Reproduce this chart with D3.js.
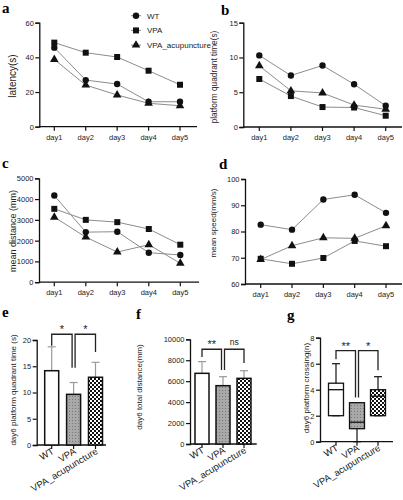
<!DOCTYPE html>
<html><head><meta charset="utf-8">
<script src="https://cdn.jsdelivr.net/npm/d3@7"></script>
<style>
body{margin:0;background:#fff;}
text{font-family:"Liberation Sans",Arial,sans-serif;fill:#222;}
.plab{font-family:"Liberation Serif","DejaVu Serif",serif;font-weight:bold;font-size:15px;fill:#000;}
</style></head>
<body><svg id="c" width="403" height="500"></svg>
<script>
// ---------- data ----------
const days = ["day1","day2","day3","day4","day5"];
const groups = ["WT","VPA","VPA_acupuncture"];
const latencyWT  = [45.6, 26.9, 24.6, 14.4, 14.4];
const latencyVPA = [48.5, 42.7, 40.2, 32.3, 24.2];
const latencyAcu = [38.8, 24.0, 18.3, 13.5, 12.1];
const quadWT  = [10.3, 7.4, 8.85, 6.15, 3.05];
const quadVPA = [6.9, 4.45, 2.87, 2.8, 1.62];
const quadAcu = [8.8, 5.2, 4.9, 3.15, 2.55];
const distWT  = [4170, 2410, 2430, 1420, 1310];
const distVPA = [3530, 3000, 2890, 2560, 1805];
const distAcu = [3130, 2170, 1450, 1805, 910];
const speedWT  = [82.6, 80.7, 92.2, 94.0, 87.1];
const speedVPA = [69.6, 67.7, 69.9, 76.4, 74.4];
const speedAcu = [69.3, 74.6, 77.6, 77.4, 82.2];
const day6QuadMean = [14.15, 9.65, 12.9];
const day6QuadSD   = [4.55, 2.25, 2.85];
const day6DistMean = [6750, 5570, 6270];
const day6DistSD   = [1120, 860, 730];
const crossMin = [2, 0, 2];
const crossQ1  = [2, 1, 2];
const crossMed = [4, 1.5, 3.5];
const crossQ3  = [4.5, 3, 4];
const crossMax = [6, 3, 5];
const sigQuad = [{a:0,b:1,top:21.1,la:18.9,lb:14.7,t:"*"},{a:1,b:2,top:21.1,la:14.7,lb:17.7,t:"*"}];
const sigDist = [{a:0,b:1,top:9050,la:8310,lb:7070,t:"**"},{a:1,b:2,top:9050,la:7070,lb:7740,t:"ns"}];
const sigCross = [{a:0,b:1,top:7.0,la:6.34,lb:3.4,t:"**"},{a:1,b:2,top:7.0,la:3.4,lb:5.5,t:"*"}];

const svg = d3.select("#c");
const defs = svg.append("defs");
const pd = defs.append("pattern").attr("id","dots").attr("patternUnits","userSpaceOnUse").attr("width",3).attr("height",3);
pd.append("rect").attr("width",3).attr("height",3).attr("fill","#a9a9a9");
pd.append("rect").attr("width",1).attr("height",1).attr("fill","#777");
const pc = defs.append("pattern").attr("id","checker").attr("patternUnits","userSpaceOnUse").attr("width",4).attr("height",4);
pc.append("rect").attr("width",4).attr("height",4).attr("fill","#fff");
pc.append("rect").attr("width",2).attr("height",2).attr("fill","#111");
pc.append("rect").attr("x",2).attr("y",2).attr("width",2).attr("height",2).attr("fill","#111");
const fills = ["#fff","url(#dots)","url(#checker)"];

const symbols = [d3.symbolCircle, d3.symbolSquare, d3.symbolTriangle];
const symSize = [32, 36, 32];
const FS = 7.5;

function yAxis(g, y, x0, ticks, fmt){
  const ax = g.append("g").attr("transform",`translate(${x0},0)`)
    .call(d3.axisLeft(y).tickValues(ticks).tickSize(4).tickPadding(1.5).tickFormat(fmt||d3.format("d")));
  ax.select(".domain").attr("stroke","#111").attr("stroke-width",1.3);
  ax.selectAll(".tick line").attr("stroke","#111").attr("stroke-width",1.2);
  ax.selectAll("text").attr("font-size",FS).style("font-family","Liberation Sans, Arial").attr("fill","#222");
  return ax;
}
function xAxisLine(g, yPix, x0, x1, xs, positions){
  g.append("line").attr("x1",x0).attr("x2",x1).attr("y1",yPix).attr("y2",yPix).attr("stroke","#111").attr("stroke-width",1.3);
  g.selectAll(null).data(positions).enter().append("line")
   .attr("x1",d=>xs(d)).attr("x2",d=>xs(d)).attr("y1",yPix).attr("y2",yPix+4)
   .attr("stroke","#111").attr("stroke-width",1.2);
}
function ytitle(g, t, x, y, fs){
  g.append("text").attr("transform",`translate(${x},${y}) rotate(-90)`).attr("text-anchor","middle")
   .attr("font-size",fs).text(t);
}

function linePanel(o){
  const g = svg.append("g");
  const x = d3.scalePoint().domain(days).range(o.xr);
  const y = d3.scaleLinear().domain(o.yd).range(o.yr);
  yAxis(g, y, o.ax, o.ticks);
  xAxisLine(g, o.yr[0], o.ax, o.axEnd, x, days);
  g.selectAll(null).data(days).enter().append("text")
    .attr("x",d=>x(d)).attr("y",o.yr[0]+13).attr("text-anchor","middle").attr("font-size",FS).text(d=>d);
  const line = d3.line().x((d,i)=>x(days[i])).y(d=>y(d));
  o.series.forEach((s,k)=>{
    g.append("path").attr("d",line(s)).attr("fill","none").attr("stroke","#8c8c8c").attr("stroke-width",1);
  });
  o.series.forEach((s,k)=>{
    g.selectAll(null).data(s).enter().append("path")
      .attr("d",d3.symbol().type(symbols[k]).size(symSize[k]))
      .attr("transform",(d,i)=>`translate(${x(days[i])},${y(d)})`).attr("fill","#111");
  });
  ytitle(g, o.title, o.tx, o.ty, o.tfs);
  g.append("text").attr("class","plab").attr("x",o.lx).attr("y",o.ly).text(o.lab);
  return g;
}

const ga = linePanel({xr:[54.3,180],yd:[0,60],yr:[126.7,22.7],ax:39.3,axEnd:197,ticks:[0,20,40,60],
  series:[latencyWT,latencyVPA,latencyAcu],title:"latency(s)",tx:16,ty:76,tfs:10,lab:"a",lx:2,ly:13});
// legend
const leg = ga.append("g");
groups.forEach((name,k)=>{
  const yy = 15.7 + k*14.7;
  leg.append("line").attr("x1",131).attr("x2",141).attr("y1",yy).attr("y2",yy).attr("stroke","#8c8c8c").attr("stroke-width",1);
  leg.append("path").attr("d",d3.symbol().type(symbols[k]).size(symSize[k])()).attr("transform",`translate(136,${yy})`).attr("fill","#111");
  leg.append("text").attr("x",147).attr("y",yy+3).attr("font-size",8).text(name);
});
linePanel({xr:[259.3,385.7],yd:[0,15],yr:[127,22.7],ax:243.3,axEnd:402,ticks:[0,5,10,15],
  series:[quadWT,quadVPA,quadAcu],title:"platform quadrant time(s)",tx:217,ty:77,tfs:8.3,lab:"b",lx:221,ly:15});
linePanel({xr:[54.3,180.3],yd:[0,5000],yr:[282.2,178.3],ax:39,axEnd:199,ticks:[0,1000,2000,3000,4000,5000],
  series:[distWT,distVPA,distAcu],title:"mean distance (mm)",tx:16,ty:231,tfs:9,lab:"c",lx:2,ly:168});
linePanel({xr:[260.7,386],yd:[60,100],yr:[284,179],ax:245,axEnd:402,ticks:[60,70,80,90,100],
  series:[speedWT,speedVPA,speedAcu],title:"mean speed(mm/s)",tx:216,ty:223,tfs:8,lab:"d",lx:219,ly:169});

// ---------- bottom panels ----------
function catPanel(o){
  const g = svg.append("g");
  const x = d3.scalePoint().domain(groups).range(o.xr);
  const y = d3.scaleLinear().domain(o.yd).range(o.yr);
  yAxis(g, y, o.ax, o.ticks);
  const base = o.yr[0];
  xAxisLine(g, base, o.ax, o.axEnd, x, groups);
  g.selectAll(null).data(groups).enter().append("text")
    .attr("transform",d=>`translate(${x(d)+3},${base+8}) rotate(-31)`).attr("text-anchor","end")
    .attr("font-size",9.5).text(d=>d);
  ytitle(g, o.title, o.tx, o.ty, o.tfs);
  g.append("text").attr("class","plab").attr("x",o.lx).attr("y",o.ly).text(o.lab);
  // significance brackets
  o.sig.forEach(s=>{
    const xa = x(groups[s.a]) + (s.a===1? 1.5:0), xb = x(groups[s.b]) - (s.b===1?1.5:0);
    g.append("path").attr("d",`M${xa},${y(s.la)}V${y(s.top)}H${xb}V${y(s.lb)}`)
      .attr("fill","none").attr("stroke","#222").attr("stroke-width",1.3);
    g.append("text").attr("x",(xa+xb)/2).attr("y",y(s.top)-(s.t==="ns"?4:1)).attr("text-anchor","middle")
      .attr("font-size",s.t==="ns"?8.5:11).text(s.t);
  });
  return {g,x,y};
}
function barPanel(o, means, sds){
  const p = catPanel(o);
  const {g,x,y} = p;
  const w = 14;
  groups.forEach((d,i)=>{
    g.append("line").attr("x1",x(d)).attr("x2",x(d)).attr("y1",y(means[i])).attr("y2",y(means[i]+sds[i]))
      .attr("stroke","#999").attr("stroke-width",1.2);
    g.append("line").attr("x1",x(d)-4).attr("x2",x(d)+4).attr("y1",y(means[i]+sds[i])).attr("y2",y(means[i]+sds[i]))
      .attr("stroke","#999").attr("stroke-width",1.2);
    g.append("rect").attr("x",x(d)-w/2).attr("width",w).attr("y",y(means[i])).attr("height",y(0)-y(means[i]))
      .attr("fill",fills[i]).attr("stroke","#111").attr("stroke-width",1.5);
  });
}
barPanel({xr:[51.7,95.5],yd:[0,20],yr:[445,340],ax:36.7,axEnd:106,ticks:[0,5,10,15,20],
  title:"day6 platform quadrant time (s)",tx:16,ty:390,tfs:8,lab:"e",lx:2,ly:317,sig:sigQuad},day6QuadMean,day6QuadSD);
barPanel({xr:[202,244],yd:[0,10000],yr:[444,339.3],ax:190,axEnd:256.7,ticks:[0,2000,4000,6000,8000,10000],
  title:"day6 total distance(mm)",tx:142,ty:387,tfs:8,lab:"f",lx:136,ly:319,sig:sigDist},day6DistMean,day6DistSD);
(function(){
  const p = catPanel({xr:[336,378],yd:[0,8],yr:[441.7,337.7],ax:320,axEnd:393,ticks:[0,2,4,6,8],
    title:"day6 platform crossing(n)",tx:309,ty:388,tfs:8,lab:"g",lx:287,ly:320,sig:sigCross});
  const {g,x,y} = p;
  const w = 15;
  groups.forEach((d,i)=>{
    g.append("line").attr("x1",x(d)).attr("x2",x(d)).attr("y1",y(crossMin[i])).attr("y2",y(crossMax[i]))
      .attr("stroke","#111").attr("stroke-width",1.2);
    [crossMin[i],crossMax[i]].forEach(v=>{
      g.append("line").attr("x1",x(d)-4).attr("x2",x(d)+4).attr("y1",y(v)).attr("y2",y(v)).attr("stroke","#111").attr("stroke-width",1.2);
    });
    g.append("rect").attr("x",x(d)-w/2).attr("width",w).attr("y",y(crossQ3[i])).attr("height",y(crossQ1[i])-y(crossQ3[i]))
      .attr("fill",fills[i]).attr("stroke","#111").attr("stroke-width",1.3);
    g.append("line").attr("x1",x(d)-w/2).attr("x2",x(d)+w/2).attr("y1",y(crossMed[i])).attr("y2",y(crossMed[i]))
      .attr("stroke","#111").attr("stroke-width",1.3);
  });
})();
</script></body></html>
